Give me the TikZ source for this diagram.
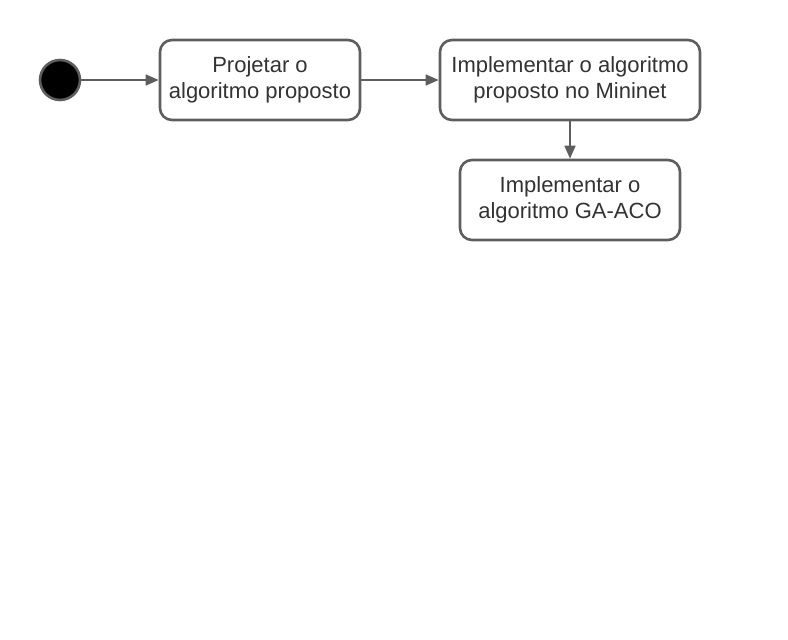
\documentclass[tikz,border=0pt]{standalone}
\usepackage{fontspec}
\setmainfont{Liberation Sans}
\usetikzlibrary{arrows.meta}
\definecolor{edge}{HTML}{5E5E5E}
\definecolor{txt}{HTML}{333333}
\begin{document}
\begin{tikzpicture}[x=1pt,y=-1pt,
  act/.style={draw=edge,line width=2.6pt,rounded corners=12pt,fill=white,text=txt,
    align=center,font=\fontsize{22}{26.5}\selectfont,inner sep=0pt},
  conn/.style={draw=edge,line width=1.6pt,-{Triangle[length=13pt,width=11pt]}}]
\useasboundingbox (0,0) rectangle (788,640);
\node[circle,draw=edge,fill=black,line width=2.6pt,minimum size=40pt,inner sep=0pt] (start) at (60,80) {};
\node[act,minimum width=200pt,minimum height=80pt] (a) at (260,80) {Projetar o\\algoritmo proposto};
\node[act,minimum width=260pt,minimum height=80pt] (b) at (570,80) {Implementar o algoritmo\\proposto no Mininet};
\node[act,minimum width=220pt,minimum height=80pt] (c) at (570,200) {Implementar o\\algoritmo GA-ACO};
\draw[conn] (start) -- (a);
\draw[conn] (a) -- (b);
\draw[conn] (b) -- (c);
\end{tikzpicture}
\end{document}
